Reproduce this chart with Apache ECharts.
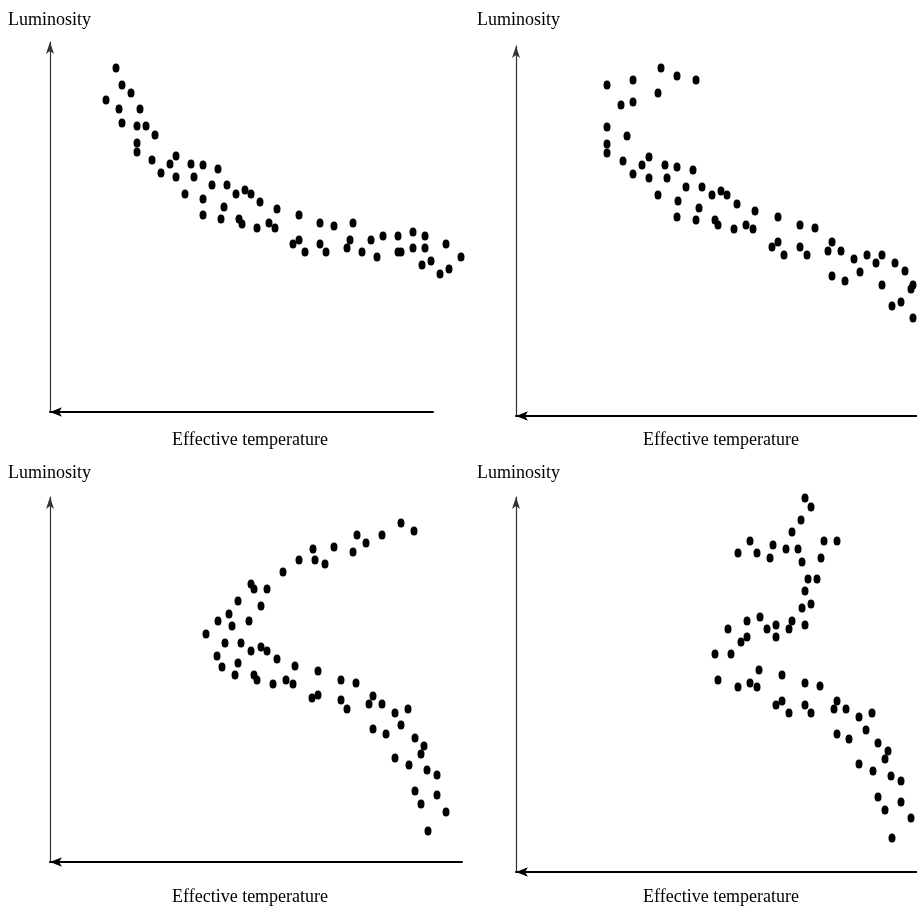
<!DOCTYPE html>
<html>
<head>
<meta charset="utf-8">
<script src="https://cdn.jsdelivr.net/npm/echarts@6/dist/echarts.min.js"></script>
<style>
html,body{margin:0;padding:0;background:#fff;}
#chart{width:917px;height:913px;}
</style>
</head>
<body>
<div id="chart"></div>
<script>
// [effective temperature (arbitrary units, increasing to the right as drawn), luminosity]
const panel1Stars = [
[66,344],[72,327],[81,319],[56,312],[69,303],[90,303],[72,289],[87,286],[96,286],[105,277],
[87,269],[87,260],[102,252],[126,256],[120,248],[111,239],[126,235],[141,248],[153,247],[168,243],
[144,235],[162,227],[177,227],[135,218],[153,213],[186,218],[195,222],[201,218],[210,210],[174,205],
[153,197],[171,193],[189,193],[192,188],[207,184],[219,189],[225,184],[227,203],[249,197],[270,189],
[284,186],[303,189],[243,168],[249,172],[255,160],[270,168],[276,160],[297,164],[300,172],[312,160],
[321,172],[327,155],[333,176],[348,176],[348,160],[351,160],[363,180],[363,164],[375,176],[375,164],
[372,147],[381,151],[396,168],[390,138],[399,143],[411,155]
];
const panel2Stars = [
[145,348],[161,340],[180,336],[91,331],[117,336],[142,323],[105,311],[117,314],[91,289],[111,280],
[91,272],[91,263],[107,255],[126,251],[133,259],[117,242],[133,238],[149,251],[161,249],[177,246],
[151,238],[170,229],[186,229],[142,221],[162,215],[196,221],[205,225],[211,221],[221,212],[183,208],
[161,199],[180,196],[199,196],[202,191],[218,187],[230,191],[237,187],[239,205],[262,199],[284,191],
[299,188],[256,169],[262,174],[268,161],[284,169],[291,161],[312,165],[316,174],[325,165],[338,157],
[351,161],[360,153],[366,161],[379,153],[389,145],[316,140],[329,135],[344,144],[366,131],[397,131],
[395,127],[376,110],[385,114],[397,98]
];
const panel3Stars = [
[284,315],[263,313],[249,302],[265,302],[275,298],[233,290],[201,278],[204,273],[217,273],[188,261],
[211,256],[179,248],[168,241],[199,241],[182,236],[156,228],[175,219],[191,219],[201,211],[211,215],
[217,211],[167,206],[188,199],[227,203],[172,195],[245,196],[185,187],[204,187],[207,182],[223,178],
[236,182],[243,178],[268,191],[268,167],[262,164],[351,339],[364,331],[307,327],[332,327],[303,310],
[316,319],[291,182],[306,179],[291,162],[297,153],[323,166],[319,158],[332,158],[345,149],[358,153],
[351,137],[323,133],[336,128],[365,124],[374,116],[371,108],[345,104],[359,97],[377,92],[387,87],
[365,71],[387,67],[371,58],[396,50],[378,31]
];
const panel4Stars = [
[289,374],[295,365],[285,352],[276,340],[234,331],[257,327],[222,319],[241,319],[254,314],[270,323],
[282,323],[308,331],[321,331],[286,310],[305,314],[292,293],[301,293],[289,281],[295,268],[286,264],
[244,255],[231,251],[276,251],[212,243],[251,243],[260,247],[273,243],[289,247],[231,235],[225,230],
[260,235],[199,218],[215,218],[243,202],[202,192],[266,197],[234,189],[222,185],[241,185],[289,189],
[304,186],[260,167],[266,171],[273,159],[289,167],[295,159],[321,171],[318,163],[330,163],[343,155],
[356,159],[350,142],[321,138],[333,133],[362,129],[372,121],[369,113],[343,108],[357,101],[375,96],
[385,91],[362,75],[385,70],[369,62],[395,54],[376,34]
];
const yAxisTitle = 'Luminosity';
const xAxisTitle = 'Effective temperature';

const panels = [
  {data: panel1Stars, grid:{left:50, top:42, width:383, height:370}, xMax:383, yMax:370,
   lum:{left:8, top:11}, temp:{left:172, top:431}},
  {data: panel2Stars, grid:{left:516, top:46, width:401, height:370}, xMax:401, yMax:370,
   lum:{left:477, top:11}, temp:{left:643, top:431}},
  {data: panel3Stars, grid:{left:50, top:497, width:412, height:365}, xMax:412, yMax:365,
   lum:{left:8, top:464}, temp:{left:172, top:888}},
  {data: panel4Stars, grid:{left:516, top:497, width:401, height:375}, xMax:401, yMax:375,
   lum:{left:477, top:464}, temp:{left:643, top:888}}
];

const font = {fontFamily:'Liberation Serif', fontSize:18, fontWeight:'normal', color:'#000'};
const option = {
  animation:false,
  backgroundColor:'#fff',
  title: [],
  grid: [], xAxis: [], yAxis: [], series: []
};
panels.forEach((p, i) => {
  option.grid.push(Object.assign({containLabel:false}, p.grid));
  option.xAxis.push({
    type:'value', gridIndex:i, min:0, max:p.xMax,
    axisLine:{show:true, onZero:false, symbol:['arrow','none'], symbolSize:[7,12],
      lineStyle:{color:'#000', width:2}},
    axisTick:{show:false}, axisLabel:{show:false}, splitLine:{show:false}
  });
  option.yAxis.push({
    type:'value', gridIndex:i, min:0, max:p.yMax,
    axisLine:{show:true, onZero:false, symbol:['none','arrow'], symbolSize:[6,12],
      lineStyle:{color:'#333', width:1.2}},
    axisTick:{show:false}, axisLabel:{show:false}, splitLine:{show:false}
  });
  option.series.push({
    type:'scatter', xAxisIndex:i, yAxisIndex:i, data:p.data, clip:false,
    symbol:'circle', symbolSize:[7,9], itemStyle:{color:'#000', opacity:1}, silent:true
  });
  option.title.push({text:yAxisTitle, left:p.lum.left, top:p.lum.top, padding:0, textStyle:font});
  option.title.push({text:xAxisTitle, left:p.temp.left, top:p.temp.top, padding:0, textStyle:font});
});

const chart = echarts.init(document.getElementById('chart'), null, {renderer:'canvas'});
chart.setOption(option);
</script>
</body>
</html>
